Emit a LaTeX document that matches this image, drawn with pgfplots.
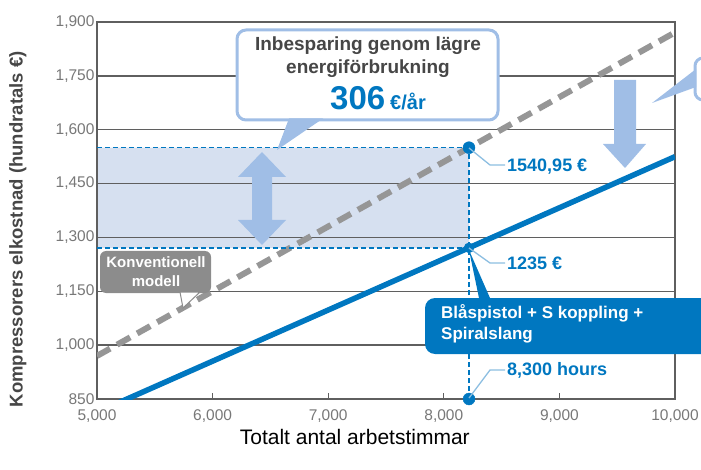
\documentclass[border=0pt]{standalone}
\usepackage{fontspec}
\setmainfont{Liberation Sans}
\usepackage{pgfplots}
\pgfplotsset{compat=1.18}
\definecolor{lineblue}{RGB}{0,119,192}
\definecolor{shade}{RGB}{214,224,240}
\definecolor{lightarrow}{RGB}{160,190,230}
\definecolor{gridgray}{RGB}{95,95,95}
\definecolor{ticktext}{RGB}{120,120,120}
\definecolor{dashgray}{RGB}{150,150,150}
\definecolor{boxgray}{RGB}{140,140,140}
\definecolor{labelgray}{RGB}{70,70,70}
\definecolor{leader}{RGB}{140,190,225}
\begin{document}
\begin{tikzpicture}
\begin{axis}[
  at={(97pt,70pt)}, anchor=south west,
  scale only axis, width=578pt, height=377pt,
  xmin=5000, xmax=10000, ymin=850, ymax=1900,
  set layers, clip mode=individual,
  scaled x ticks=false, scaled y ticks=false,
  xtick={5000,6000,7000,8000,9000,10000},
  ytick={850,1000,1150,1300,1450,1600,1750,1900},
  ymajorgrids, major grid style={gridgray, line width=1.3pt},
  axis line style={gridgray, line width=1.3pt},
  tick pos=left, tick align=inside, major tick length=6pt,
  xtick style={gridgray, line width=1.2pt}, ytick style={draw=none},
  ticklabel style={font=\fontsize{15.5}{15.5}\selectfont, text=ticktext},
  xticklabel style={yshift=-7pt},
  yticklabel style={xshift=1pt},
  /pgf/number format/1000 sep={,},
  /pgf/number format/assume math mode=true,
  ylabel={Kompressorers elkostnad (hundratals €)},
  ylabel style={at={(axis description cs:-0.137,0.45)}, anchor=center, font=\fontsize{18.5}{20}\selectfont\bfseries, text=labelgray},
  xlabel={Totalt antal arbetstimmar},
  xlabel style={at={(axis description cs:0.446,-0.10)}, anchor=center, font=\fontsize{21}{22}\selectfont, text=black},
]
% shaded saving band
\addplot[fill=shade, draw=none, on layer=axis background] coordinates {(5000,1271) (8218,1271) (8218,1550) (5000,1550) (5000,1271)};
% conventional model
\addplot[dashgray, line width=6pt, dash pattern=on 15pt off 8pt] coordinates {(5000,970) (10000,1871)};
% new setup
\addplot[lineblue, line width=5.5pt] coordinates {(5000,813) (10000,1525)};
% dashed guides
\addplot[lineblue, line width=1.5pt, dash pattern=on 5pt off 3pt] coordinates {(5000,1550) (8218,1550)};
\addplot[lineblue, line width=1.5pt, dash pattern=on 5pt off 3pt] coordinates {(5000,1271) (8218,1271)};
\addplot[lineblue, line width=1.5pt, dash pattern=on 5pt off 3pt] coordinates {(8218,850) (8218,1550)};
% dots
\addplot[only marks, mark=*, mark size=6pt, color=lineblue] coordinates {(8218,1550) (8218,850)};
\addplot[only marks, mark=*, mark size=5pt, color=lineblue] coordinates {(8218,1271)};
\end{axis}
\begin{scope}[x=1pt,y=1pt]
% leader lines
\draw[leader, line width=1.3pt] (469,321) -- (490,304) -- (505,304);
\draw[leader, line width=1.3pt] (469,221) -- (490,206) -- (505,206);
\draw[leader, line width=1.3pt] (469,71) -- (490,99) -- (505,99);
\node[anchor=west, text=lineblue, font=\fontsize{18}{18}\selectfont\bfseries, inner sep=0pt] at (507,302) {1540,95 €};
\node[anchor=west, text=lineblue, font=\fontsize{18}{18}\selectfont\bfseries, inner sep=0pt] at (507,206) {1235 €};
\node[anchor=west, text=lineblue, font=\fontsize{18}{18}\selectfont\bfseries, inner sep=0pt] at (507,99) {8,300 hours};
% double arrow
\fill[lightarrow] (262,317) -- (286,292) -- (272,292) -- (272,249) -- (286,249) -- (262,224) -- (238,249) -- (252,249) -- (252,292) -- (238,292) -- cycle;
% down arrow
\fill[lightarrow] (614,389) -- (636,389) -- (636,325) -- (646,325) -- (625,301) -- (603,325) -- (614,325) -- cycle;
% top callout
\draw[lightarrow, line width=3pt, fill=white, rounded corners=9pt] (237,439) rectangle (498,349);
\fill[lightarrow] (289,350.5) -- (323,350.5) -- (277,319) -- cycle;
\node[text=labelgray, font=\fontsize{19}{19}\selectfont\bfseries] at (368,423) {Inbesparing genom lägre};
\node[text=labelgray, font=\fontsize{19}{19}\selectfont\bfseries] at (368,400) {energiförbrukning};
\node[text=lineblue, font=\bfseries, anchor=base] at (378,359) {{\fontsize{33}{33}\selectfont 306}\hspace{5pt}{\fontsize{20}{20}\selectfont €/år}};
% conventional label
\fill[boxgray, rounded corners=6pt] (100,218) rectangle (211,176);
\filldraw[fill=white, draw=boxgray, line width=1pt] (180,177) -- (200,177) -- (183,161) -- cycle;
\node[text=white, font=\fontsize{15}{19}\selectfont\bfseries, align=center, inner sep=0pt] at (156,197) {Konventionell\\modell};
% blue pointer
\fill[lineblue] (469,219) -- (479,171) -- (490,171) -- cycle;
\begin{scope}
\clip (0,0) rectangle (701,469);
% right partial callout
\draw[lightarrow, line width=3pt, fill=white, rounded corners=8pt] (695,411) rectangle (760,369);
\fill[lightarrow] (696,400) -- (696,382) -- (652,366) -- cycle;
% blue label
\fill[lineblue, rounded corners=10pt] (425,171) rectangle (780,115);
\end{scope}
\node[anchor=base west, text=white, font=\fontsize{17}{17}\selectfont\bfseries, inner sep=0pt] at (441,151) {Blåspistol + S koppling +};
\node[anchor=base west, text=white, font=\fontsize{17}{17}\selectfont\bfseries, inner sep=0pt] at (441,130) {Spiralslang};
\pgfresetboundingbox
\useasboundingbox (0,0) rectangle (701,469);
\end{scope}
\end{tikzpicture}
\end{document}
